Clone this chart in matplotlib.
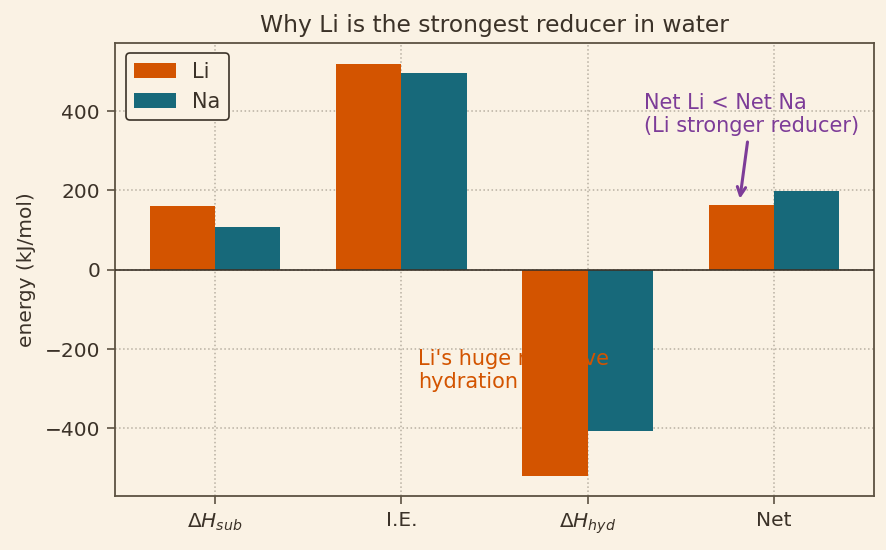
import numpy as np
import matplotlib.pyplot as plt

categories = [r"$\Delta H_{sub}$", "I.E.", r"$\Delta H_{hyd}$", "Net"]
li_values = [161, 520, -519, 162]
na_values = [108, 496, -406, 198]

bg = "#faf2e4"
ink = "#3b3228"
li_color = "#d35400"
na_color = "#17697a"

fig, ax = plt.subplots(figsize=(8.87, 5.5), dpi=100)
fig.patch.set_facecolor(bg)
ax.set_facecolor(bg)

x = np.arange(len(categories))
width = 0.35
ax.bar(x - width / 2, li_values, width, color=li_color, label="Li", zorder=3)
ax.bar(x + width / 2, na_values, width, color=na_color, label="Na", zorder=2)

ax.axhline(0, color=ink, linewidth=1.2, zorder=4)
ax.grid(True, linestyle=":", color="#b8b0a2", linewidth=1.1, zorder=0)

ax.set_xticks(x)
ax.set_xticklabels(categories, fontsize=14.5, color=ink)
ax.tick_params(axis="y", labelsize=14.5, labelcolor=ink, color="#5c5242",
               length=5.5, width=1.2, pad=5.5)
ax.tick_params(axis="x", color="#5c5242", length=5.5, width=1.2, pad=5.5)
ax.set_ylabel("energy (kJ/mol)", fontsize=14.5, color=ink, labelpad=6)
ax.set_title("Why Li is the strongest reducer in water", fontsize=16.8,
             color=ink, pad=8)

for spine in ax.spines.values():
    spine.set_color("#5c5242")
    spine.set_linewidth(1.3)

# text sits above the Na bar but under the Li bar
ax.text(1.09, -255, "Li's huge negative\nhydration", color=li_color,
        fontsize=15, ha="left", va="center", zorder=2.5)

ax.annotate("Net Li < Net Na\n(Li stronger reducer)", xy=(2.815, 172),
            xytext=(2.3, 336), color="#7d3c98", fontsize=15,
            ha="left", va="bottom",
            arrowprops=dict(arrowstyle="->", color="#7d3c98", lw=2.2))

leg = ax.legend(loc="upper left", fontsize=15, facecolor=bg, edgecolor=ink,
                framealpha=1)
leg.get_frame().set_linewidth(1.2)
for t in leg.get_texts():
    t.set_color(ink)

fig.subplots_adjust(left=0.13, right=0.985, top=0.922, bottom=0.098)
fig.savefig("out.png", facecolor=bg)
